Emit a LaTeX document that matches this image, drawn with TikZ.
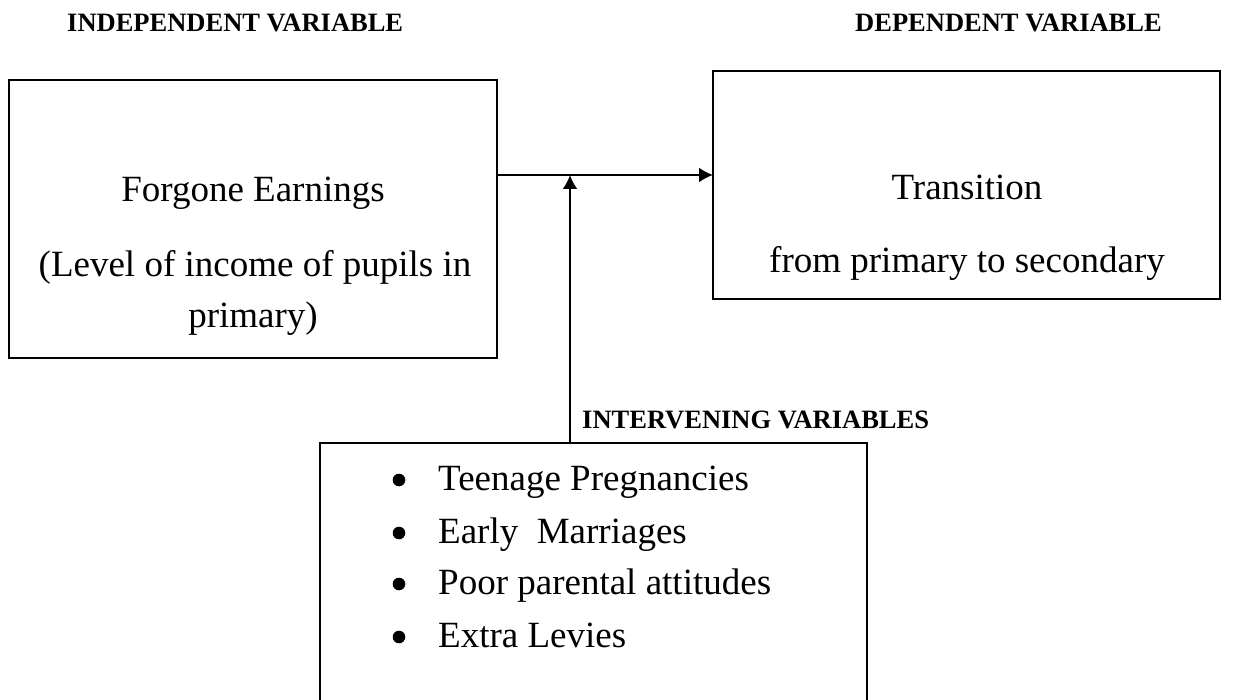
\documentclass[tikz,border=0pt]{standalone}
\usepackage{fontspec}
\setmainfont{Liberation Serif}
\usetikzlibrary{arrows.meta}
\begin{document}
\begin{tikzpicture}[x=1pt,y=-1pt,
  box/.style={draw, line width=2pt, inner sep=0pt, outer sep=0pt},
  body/.style={font=\fontsize{37}{50}\selectfont, inner sep=0pt, anchor=base},
  item/.style={font=\fontsize{37}{50}\selectfont, inner sep=0pt, anchor=base west},
  head/.style={font=\fontsize{26.5}{32}\selectfont\bfseries, inner sep=0pt, anchor=base west},
  arr/.style={-{Latex[length=14pt,width=15pt]}, line width=2pt}]
\clip (0,0) rectangle (1233,700);
% boxes
\node[box, minimum width=488pt, minimum height=278pt] (indep) at (253,219) {};
\node[box, minimum width=507pt, minimum height=228pt] (dep) at (966.5,185) {};
\node[box, minimum width=547pt, minimum height=277pt] (interv) at (593.5,581.5) {};
% headers
\node[head] (hi) at (67,32) {INDEPENDENT VARIABLE};
\node[head] (hd) at (855,32) {DEPENDENT VARIABLE};
\node[head] (hv) at (582,428) {INTERVENING VARIABLES};
% box texts
\node[body] (fe) at (253,202) {Forgone Earnings};
\node[body] (lv) at (255,277) {(Level of income of pupils in};
\node[body] (pr) at (253,327) {primary)};
\node[body] (tr) at (967,200) {Transition};
\node[body] (fp) at (967,273) {from primary to secondary};
% list
\foreach \b/\t [count=\i] in {490/Teenage Pregnancies, 543/Early\ \ Marriages, 594/Poor parental attitudes, 647/Extra Levies}{
  \fill (399,\b-10) circle (6.3pt);
  \node[item] (it\i) at (438,\b) {\t};
}
% connectors
\coordinate (j) at (570,175);
\draw[arr] (indep.east |- j) -- (dep.west |- j);
\draw[arr] (interv.north -| j) -- (j);
\end{tikzpicture}
\end{document}
